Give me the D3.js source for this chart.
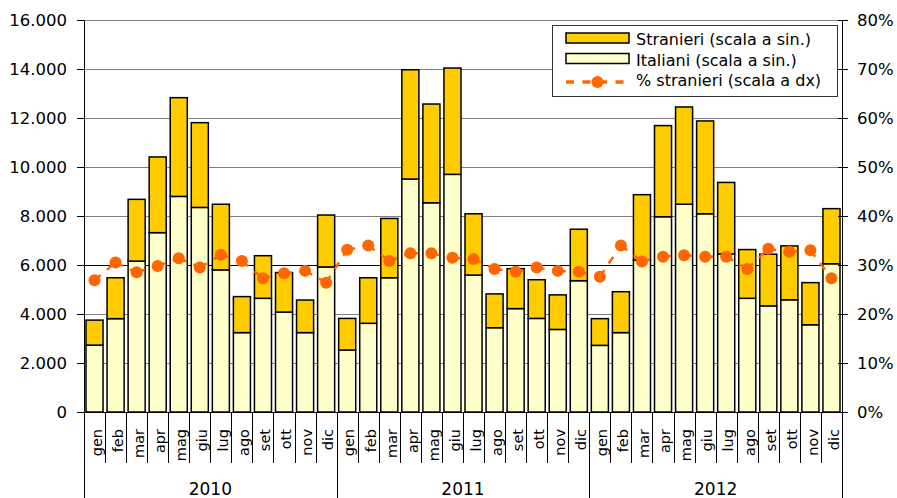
<!DOCTYPE html>
<html><head><meta charset="utf-8">
<script src="https://cdn.jsdelivr.net/npm/d3@7"></script>
<style>
body{margin:0;background:#fff}
svg{display:block}
text{font-family:"DejaVu Sans",sans-serif;fill:#000}
</style>
</head><body>
<svg id="c" width="897" height="498"></svg>
<script>
const years = ["2010", "2011", "2012"];
const months = ["gen","feb","mar","apr","mag","giu","lug","ago","set","ott","nov","dic"];
const italiani = [
  2730,3810,6160,7320,8800,8350,5800,3240,4640,4080,3240,5920,
  2530,3620,5480,9510,8540,9700,5590,3440,4220,3820,3370,5360,
  2720,3240,6200,7970,8480,8090,6450,4640,4330,4580,3560,6050
];
const stranieri = [
  1020,1670,2520,3090,4030,3460,2680,1470,1740,1610,1330,2120,
  1290,1860,2420,4460,4030,4340,2500,1380,1630,1580,1410,2100,
  1090,1670,2670,3720,3970,3790,2920,1990,2110,2200,1720,2250
];
const pctStranieri = [
  26.9,30.5,28.5,29.8,31.4,29.5,32.1,30.8,27.3,28.3,28.8,26.4,
  33.1,34.0,30.8,32.4,32.4,31.5,31.2,29.2,28.6,29.5,28.8,28.6,
  27.6,34.0,30.7,31.7,32.0,31.7,31.7,29.2,33.3,32.7,33.0,27.3
];
const leftTicks = [0,2000,4000,6000,8000,10000,12000,14000,16000];
const rightTicks = [0,10,20,30,40,50,60,70,80];
const legendLabels = ["Stranieri (scala a sin.)", "Italiani (scala a sin.)", "% stranieri (scala a dx)"];

const colStr = "#FFCC00", colIta = "#FFFFCC", colPct = "#FF6600";
const L = 84, R = 842, T = 20, B = 412;
const svg = d3.select("#c");
const idx = d3.range(italiani.length);

const x = d3.scaleBand().domain(idx).range([L, R]).paddingInner(0.19).paddingOuter(0.095);
const y = d3.scaleLinear().domain([0, 16000]).range([B, T]);
const yR = d3.scaleLinear().domain([0, 80]).range([B, T]);

// gridlines
svg.append("g").selectAll("line").data(leftTicks.filter(d => d > 0)).join("line")
  .attr("x1", L).attr("x2", R)
  .attr("y1", d => y(d) + 0.5).attr("y2", d => y(d) + 0.5)
  .attr("stroke", d => d === 6000 ? "#000" : "#808080").attr("stroke-width", 1);

// bars
const g = svg.append("g");
g.selectAll("rect.ita").data(idx).join("rect").attr("class", "ita")
  .attr("x", i => x(i)).attr("width", x.bandwidth())
  .attr("y", i => y(italiani[i])).attr("height", i => y(0) - y(italiani[i]))
  .attr("fill", colIta).attr("stroke", "#000").attr("stroke-width", 1.5);
g.selectAll("rect.str").data(idx).join("rect").attr("class", "str")
  .attr("x", i => x(i)).attr("width", x.bandwidth())
  .attr("y", i => y(italiani[i] + stranieri[i])).attr("height", i => y(italiani[i]) - y(italiani[i] + stranieri[i]))
  .attr("fill", colStr).attr("stroke", "#000").attr("stroke-width", 1.5);

// pct line (dash pattern restarts at each point, as in the original)
const cx = i => x(i) + x.bandwidth() / 2;
const line = d3.line().x(i => cx(i)).y(i => yR(pctStranieri[i]));
svg.append("g").selectAll("path").data(idx.slice(0, -1).map(i => [i, i + 1])).join("path")
  .attr("d", line)
  .attr("fill", "none").attr("stroke", colPct).attr("stroke-width", 2.5)
  .attr("stroke-dasharray", "8,8");
svg.append("g").selectAll("circle").data(idx).join("circle")
  .attr("cx", cx).attr("cy", i => yR(pctStranieri[i])).attr("r", 6)
  .attr("fill", colPct);

// left axis
const axL = svg.append("g").attr("transform", `translate(${L},0)`)
  .call(d3.axisLeft(y).tickValues(leftTicks).tickSize(7).tickSizeOuter(0).tickPadding(10)
    .tickFormat(d => d3.format(",")(d).replace(/,/g, ".")));
axL.selectAll("text").style("font-size", "16.5px");
axL.selectAll("line,path").attr("stroke", "#000");

// right axis
const axR = svg.append("g").attr("transform", `translate(${R},0)`)
  .call(d3.axisRight(yR).tickValues(rightTicks).tickSize(6).tickSizeOuter(0).tickPadding(9)
    .tickFormat(d => d + "%"));
axR.selectAll("text").style("font-size", "16.5px");
axR.selectAll("line,path").attr("stroke", "#000");
axR.selectAll(".tick line").attr("x1", -4);

// bottom axis
svg.append("line").attr("x1", L).attr("x2", R).attr("y1", B + 0.5).attr("y2", B + 0.5)
  .attr("stroke", "#000").attr("stroke-width", 1);
const bounds = d3.range(italiani.length + 1).map(i =>
  i < italiani.length ? x(i) - x.step() * x.paddingInner() / 2 : R);
svg.append("g").selectAll("line").data(bounds).join("line")
  .attr("x1", d => Math.round(d) + 0.5).attr("x2", d => Math.round(d) + 0.5)
  .attr("y1", B).attr("y2", (d, i) => i % 12 === 0 ? 498 : 463)
  .attr("stroke", "#000").attr("stroke-width", 1);

svg.append("g").selectAll("text").data(idx).join("text")
  .attr("transform", i => `translate(${cx(i)},429) rotate(-90)`)
  .attr("text-anchor", "end").attr("dy", "0.5em")
  .style("font-size", "14.5px")
  .text(i => months[i % 12]);

svg.append("g").selectAll("text").data(years).join("text")
  .attr("x", (d, k) => (bounds[k * 12] + bounds[k * 12 + 12]) / 2)
  .attr("y", 495).attr("text-anchor", "middle").style("font-size", "17px")
  .text(d => d);

// legend
const lg = svg.append("g");
lg.append("rect").attr("x", 552.5).attr("y", 25.5).attr("width", 285).attr("height", 71)
  .attr("fill", "#fff").attr("stroke", "#333").attr("stroke-width", 1);
[colStr, colIta].forEach((c, k) => {
  lg.append("rect").attr("x", 566).attr("y", 33 + k * 20.5).attr("width", 63).attr("height", 10)
    .attr("fill", c).attr("stroke", "#000").attr("stroke-width", 1.5);
});
lg.append("line").attr("x1", 566).attr("x2", 630).attr("y1", 82).attr("y2", 82)
  .attr("stroke", colPct).attr("stroke-width", 3.5).attr("stroke-dasharray", "8,8.5");
lg.append("circle").attr("cx", 597.5).attr("cy", 82).attr("r", 6).attr("fill", colPct);
legendLabels.forEach((t, k) => {
  lg.append("text").attr("x", 636).attr("y", 45 + k * 20.5).style("font-size", "16px").text(t);
});
</script>
</body></html>
